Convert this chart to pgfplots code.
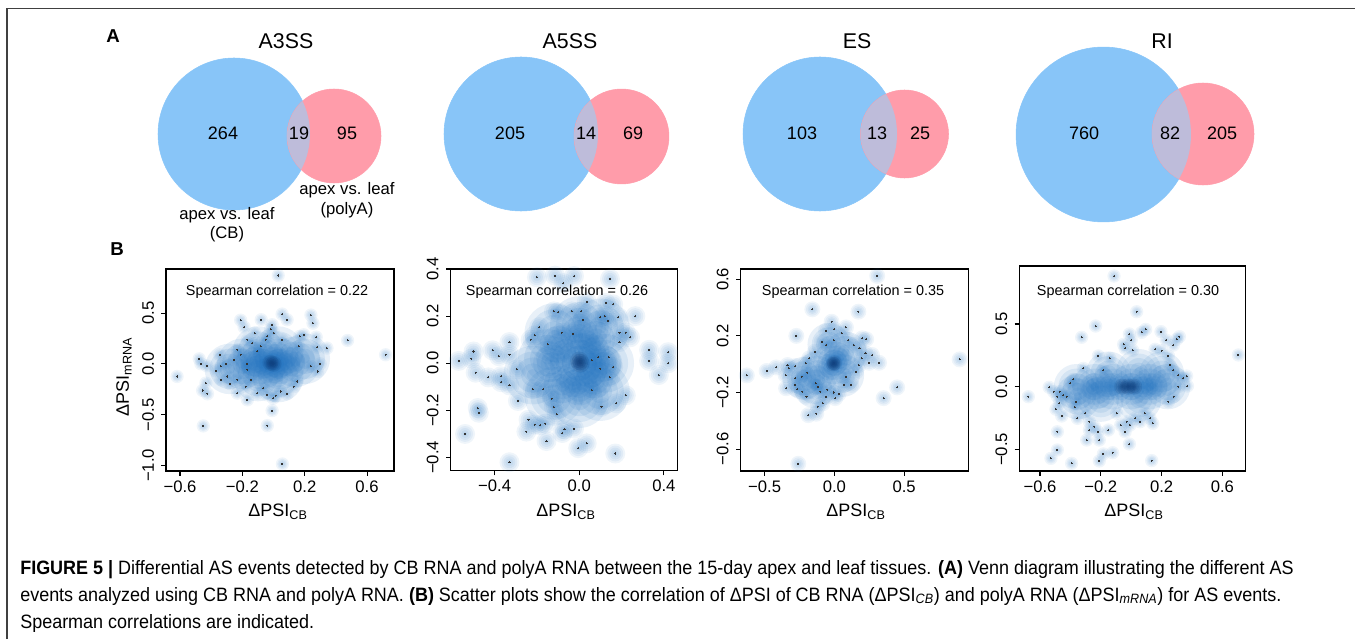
\documentclass[border=0pt]{standalone}
\usepackage{pgfplots}
\pgfplotsset{compat=1.18}
\usepackage{pgfplotstable}
\usepackage{fontspec}
\setmainfont{Liberation Sans}
\newfontfamily\capfont[FakeStretch=0.93]{Liberation Sans}

\definecolor{vblue}{RGB}{136,197,248}
\definecolor{vpink}{RGB}{255,156,170}
\definecolor{vlav}{RGB}{190,188,218}
\definecolor{psblue}{RGB}{30,112,190}
\definecolor{psdark}{RGB}{8,48,107}

\pgfdeclareplotmark{blob}{%
  \pgfpathcircle{\pgfpointorigin}{\pgfplotmarksize}\pgfusepath{fill}%
  \pgfpathcircle{\pgfpointorigin}{0.8\pgfplotmarksize}\pgfusepath{fill}%
  \pgfpathcircle{\pgfpointorigin}{0.6\pgfplotmarksize}\pgfusepath{fill}%
  \pgfpathcircle{\pgfpointorigin}{0.4\pgfplotmarksize}\pgfusepath{fill}%
  \pgfpathcircle{\pgfpointorigin}{0.2\pgfplotmarksize}\pgfusepath{fill}%
}

\pgfplotsset{
  ps/.style={scale only axis, anchor=south west,
    axis line style={line width=0.9pt},
    tick align=outside, xtick pos=left, ytick pos=left,
    major tick length=3.5pt, tick style={line width=0.8pt, black},
    ticklabel style={font=\fontsize{12.5}{14}\selectfont},
    yticklabel style={rotate=90, anchor=south},
    yticklabel shift=2pt,
    xticklabel style={anchor=north},
    clip=true},
  blobs/.style={only marks, mark=blob, mark size=#1, mark options={fill=psblue, fill opacity=0.07}},
  cloud/.style={only marks, mark=blob, mark size=#1, mark options={fill=psblue, fill opacity=0.1}},
  core/.style={only marks, mark=blob, mark size=#1, mark options={fill=psdark, fill opacity=0.13}},
  pdots/.style={only marks, mark=*, mark size=0.4pt, mark options={fill=black!80, draw=black!80, line width=0pt}},
  venn/.style={only marks, mark=*, mark size=#1},
  master/.style={at={(0pt,0pt)}, anchor=south west, scale only axis,
    width=1016.25pt, height=479.25pt,
    xmin=0, xmax=1355, ymin=0, ymax=639, y dir=reverse,
    axis lines=none, clip=false},
}

% ---------- data: points drawn with dots ----------
\pgfplotstableread{
x y
0.03 0.87
0.055 0.49
0.087 0.434
0.24 0.48
0.253 0.40
-0.211 0.43
-0.079 0.434
-0.189 0.362
-0.009 0.385
-0.019 0.342
-0.121 0.303
0.475 0.23
0.719 0.089
0.274 0.263
0.343 0.155
0.279 0.164
0.194 0.286
0.168 0.27
0.162 0.171
0.30 0.0
0.24 -0.026
0.283 -0.076
-0.619 -0.125
-0.477 0.049
-0.466 0.0
-0.428 -0.02
-0.37 -0.069
-0.338 -0.026
-0.345 0.089
-0.306 0.0
-0.296 -0.125
-0.434 -0.19
-0.455 -0.263
-0.424 -0.296
-0.279 -0.197
-0.232 -0.158
-0.253 0.039
-0.211 0.089
-0.232 0.138
-0.172 0.0
-0.168 -0.059
-0.147 -0.158
-0.179 -0.224
-0.232 -0.289
-0.168 -0.355
-0.104 -0.289
-0.066 -0.24
-0.04 -0.306
0.013 -0.316
0.045 -0.273
0.087 -0.296
-0.002 -0.339
-0.009 -0.461
-0.04 -0.609
-0.451 -0.612
0.057 -0.987
0.13 -0.224
0.151 -0.174
-0.136 0.204
-0.168 0.237
-0.051 0.237
-0.083 0.171
-0.104 0.122
-0.04 0.27
0.002 0.303
0.055 0.237
-0.338 -0.158
}\dotsA

\pgfplotstableread{
x y
-0.57 0.01
-0.51 0.02
-0.50 0.05
-0.49 -0.04
-0.48 -0.19
-0.475 -0.21
-0.54 -0.30
-0.43 -0.06
-0.41 0.055
-0.38 0.03
-0.37 -0.08
-0.37 -0.055
-0.33 0.09
-0.33 0.036
-0.33 -0.094
-0.295 -0.026
-0.29 -0.16
-0.33 -0.42
-0.25 -0.29
-0.24 -0.24
-0.21 -0.26
-0.185 -0.263
-0.16 -0.256
-0.155 -0.33
-0.13 -0.15
-0.12 -0.186
-0.107 -0.217
-0.08 -0.296
-0.07 -0.28
-0.025 -0.277
-0.005 -0.36
0.035 -0.34
0.17 -0.383
0.175 -0.17
0.105 -0.185
0.22 -0.136
0.145 -0.06
0.06 -0.115
0.33 0.057
0.33 0.01
0.42 0.047
0.42 0.0
0.376 -0.05
-0.2 0.365
-0.115 0.372
-0.025 0.37
0.145 0.358
-0.075 0.34
-0.10 0.216
-0.036 0.22
0.01 0.22
0.016 0.184
-0.12 0.22
0.035 0.26
0.10 0.195
0.12 0.2
0.137 0.18
0.16 0.25
0.125 0.256
0.185 0.195
0.265 0.2
0.19 0.13
0.22 0.13
0.24 0.11
0.19 0.09
-0.19 0.153
-0.23 0.1
-0.21 0.118
-0.15 0.08
-0.083 0.13
-0.17 -0.11
-0.22 -0.11
-0.03 0.125
0.06 0.012
0.09 0.026
0.10 -0.023
0.16 -0.016
0.14 0.026
}\dotsB

\pgfplotstableread{
x y
0.307 0.624
-0.158 0.388
0.172 0.371
-0.02 0.30
-0.273 0.20
-0.06 0.237
0.0 0.246
0.083 0.26
0.054 0.218
-0.09 0.159
-0.06 0.135
-0.006 0.17
0.10 0.17
0.20 0.183
0.228 0.176
0.139 0.135
0.18 0.112
0.223 0.077
0.27 0.065
0.25 0.01
0.32 0.01
0.898 0.034
-0.14 0.088
-0.18 0.041
-0.206 0.006
-0.28 -0.013
-0.336 -0.006
-0.326 -0.03
-0.418 -0.023
-0.486 -0.048
-0.628 -0.079
-0.35 -0.077
-0.28 -0.10
-0.235 -0.089
-0.194 -0.06
-0.346 -0.17
-0.28 -0.147
-0.266 -0.178
-0.2 -0.23
-0.23 -0.195
-0.12 -0.16
-0.1 -0.195
-0.06 -0.23
-0.05 -0.18
-0.006 -0.2
0.03 -0.21
0.006 -0.24
-0.085 -0.277
-0.12 -0.30
-0.187 -0.36
-0.13 -0.35
-0.134 -0.136
0.07 -0.147
0.12 -0.147
0.083 -0.089
0.155 -0.053
0.175 -0.006
0.196 0.041
0.353 -0.24
0.45 -0.164
-0.259 -0.704
}\dotsC

\pgfplotstableread{
x y
-0.113 0.883
0.036 0.598
-0.234 0.484
-0.326 0.394
-0.012 0.42
0.069 0.433
0.095 0.457
0.196 0.439
0.23 0.372
0.30 0.378
0.317 0.399
0.278 0.332
-0.05 0.338
-0.04 0.306
0.01 0.29
0.0 0.37
-0.14 0.226
-0.216 0.245
-0.315 0.146
-0.183 0.133
0.157 0.298
0.2 0.287
0.245 0.245
0.255 0.173
0.278 0.133
0.31 0.093
0.343 0.066
0.365 0.085
0.37 0.005
0.31 0.0
0.28 -0.08
0.245 -0.12
0.705 0.253
-0.677 -0.08
-0.54 -0.005
-0.51 -0.04
-0.486 -0.08
-0.47 -0.04
-0.446 -0.067
-0.425 -0.08
-0.473 -0.133
-0.495 -0.18
-0.457 -0.234
-0.38 0.058
-0.363 -0.12
-0.37 -0.165
-0.354 -0.253
-0.304 -0.213
-0.275 -0.28
-0.275 -0.346
-0.293 -0.426
-0.242 -0.32
-0.22 -0.36
-0.21 -0.426
-0.15 -0.346
-0.095 -0.213
-0.069 -0.306
-0.03 -0.28
-0.008 -0.306
0.025 -0.253
0.058 -0.28
0.09 -0.213
0.124 -0.253
0.142 -0.293
-0.04 -0.36
-0.012 -0.458
-0.486 -0.36
-0.486 -0.505
-0.528 -0.572
-0.392 -0.612
-0.183 -0.537
-0.21 -0.593
-0.122 -0.527
0.135 -0.59
-0.4 0.027
}\dotsD

\begin{document}
\begin{tikzpicture}
\useasboundingbox (0,0) rectangle (1016.25pt,479.25pt);

% ================= Plot 1 (A3SS) =================
\begin{axis}[ps, at={(124.5pt,126pt)}, width=171pt, height=151.5pt,
  xmin=-0.69, xmax=0.773, ymin=-1.056, ymax=0.934,
  xtick={-0.6,-0.2,0.2,0.6}, xticklabels={−0.6,−0.2,0.2,0.6},
  ytick={-1,-0.5,0,0.5}, yticklabels={−1.0,−0.5,0.0,0.5}]
\addplot[cloud=19pt] coordinates {(-0.2,0) (-0.08,0) (0.04,0) (0.14,0.02) (-0.1,0.12) (0.03,0.12) (-0.1,-0.12) (0.03,-0.13) (-0.28,-0.05) (0.2,0.05)};
\addplot[cloud=11pt] coordinates {(-0.06,0) (0.03,0) (0,0.05) (0,-0.05) (-0.12,0.02) (0.1,0.02)};
\addplot[core=6pt] coordinates {(0,0) (-0.02,0.01)};
\addplot[blobs=5pt] table {\dotsA};
\addplot[pdots] table {\dotsA};
\end{axis}

% ================= Plot 2 (A5SS) =================
\begin{axis}[ps, at={(338pt,126.2pt)}, width=170.25pt, height=151.3pt,
  xmin=-0.608, xmax=0.465, ymin=-0.456, ymax=0.4,
  xtick={-0.4,0,0.4}, xticklabels={−0.4,0.0,0.4},
  ytick={-0.4,-0.2,0,0.2,0.4}, yticklabels={−0.4,−0.2,0.0,0.2,0.4}]
\addplot[cloud=22pt] coordinates {(0,0) (-0.15,0.02) (0.12,0) (0,0.16) (0,-0.15) (-0.12,0.13) (0.1,0.15) (-0.12,-0.14) (0.1,-0.12) (-0.22,-0.05)};
\addplot[cloud=14pt] coordinates {(-0.1,0.08) (0.08,0.1) (-0.08,-0.09) (0.07,-0.07) (0,0.12) (0,-0.1) (-0.13,0) (0.11,0)};
\addplot[cloud=13pt] coordinates {(0,0) (-0.06,0.03) (0.05,-0.03) (0.02,0.07) (-0.03,-0.07) (0.06,0.05)};
\addplot[core=7pt] coordinates {(0.005,0) (0,0.01)};
\addplot[blobs=7.5pt] table {\dotsB};
\addplot[pdots] table {\dotsB};
\end{axis}

% ================= Plot 3 (ES) =================
\begin{axis}[ps, at={(555.5pt,126pt)}, width=171pt, height=151.5pt,
  xmin=-0.672, xmax=0.963, ymin=-0.755, ymax=0.673,
  xtick={-0.5,0,0.5}, xticklabels={−0.5,0.0,0.5},
  ytick={-0.6,-0.2,0.2,0.6}, yticklabels={−0.6,−0.2,0.2,0.6}]
\addplot[cloud=16pt] coordinates {(0,0.01) (-0.12,-0.06) (0.08,0.08) (-0.04,0.14) (0.06,-0.08) (-0.22,-0.1) (-0.14,-0.16)};
\addplot[cloud=10pt] coordinates {(0,0.01) (-0.04,-0.02) (0.03,0.04)};
\addplot[core=5.5pt] coordinates {(0,0.01) (-0.01,0)};
\addplot[blobs=6pt] table {\dotsC};
\addplot[pdots] table {\dotsC};
\end{axis}

% ================= Plot 4 (RI) =================
\begin{axis}[ps, at={(764.5pt,126pt)}, width=169.5pt, height=153.75pt,
  xmin=-0.736, xmax=0.751, ymin=-0.673, ymax=0.963,
  xtick={-0.6,-0.2,0.2,0.6}, xticklabels={−0.6,−0.2,0.2,0.6},
  ytick={-0.5,0,0.5}, yticklabels={−0.5,0.0,0.5}]
\addplot[cloud=17pt] coordinates {(-0.36,0) (-0.24,0) (-0.12,0) (0,0) (0.12,0) (0.24,0) (-0.15,0.1) (0.05,0.12) (-0.2,-0.1) (0.05,-0.1) (0.2,0.1) (-0.35,-0.08)};
\addplot[cloud=10pt] coordinates {(-0.25,0) (-0.15,0) (-0.07,0) (0,0) (0.08,0) (0.15,0)};
\addplot[core=6pt] coordinates {(-0.06,0) (-0.02,0) (0.02,0)};
\addplot[blobs=5pt] table {\dotsD};
\addplot[pdots] table {\dotsD};
\end{axis}

% ================= Venn circles =================
\begin{axis}[master]
\addplot[venn=57pt, mark options={fill=vblue, draw=vblue}] coordinates {(234,134)};
\addplot[venn=35.25pt, mark options={fill=vpink, draw=vpink}] coordinates {(334,136)};
\addplot[venn=57.75pt, mark options={fill=vblue, draw=vblue}] coordinates {(521,134)};
\addplot[venn=35.6pt, mark options={fill=vpink, draw=vpink}] coordinates {(621.5,136.5)};
\addplot[venn=57.75pt, mark options={fill=vblue, draw=vblue}] coordinates {(820,134)};
\addplot[venn=33pt, mark options={fill=vpink, draw=vpink}] coordinates {(904.5,134)};
\addplot[venn=65.6pt, mark options={fill=vblue, draw=vblue}] coordinates {(1103.5,134.5)};
\addplot[venn=38.25pt, mark options={fill=vpink, draw=vpink}] coordinates {(1203,134)};
\end{axis}

% ================= Overlaps, labels, caption =================
\begin{axis}[master]
\begin{scope}\clip (axis cs:234,134) circle[radius=57pt];
\fill[vlav] (axis cs:334,136) circle[radius=35.25pt];\end{scope}
\begin{scope}\clip (axis cs:521,134) circle[radius=57.75pt];
\fill[vlav] (axis cs:621.5,136.5) circle[radius=35.6pt];\end{scope}
\begin{scope}\clip (axis cs:820,134) circle[radius=57.75pt];
\fill[vlav] (axis cs:904.5,134) circle[radius=33pt];\end{scope}
\begin{scope}\clip (axis cs:1103.5,134.5) circle[radius=65.6pt];
\fill[vlav] (axis cs:1203,134) circle[radius=38.25pt];\end{scope}

% titles
\begin{scope}[every node/.style={font=\fontsize{16}{19}\selectfont}]
\node at (axis cs:286,41) {A3SS};
\node at (axis cs:570,41) {A5SS};
\node at (axis cs:857,41) {ES};
\node at (axis cs:1162,41) {RI};
\end{scope}
\node[font=\bfseries\fontsize{14}{16}\selectfont] at (axis cs:113,36) {A};
\node[font=\bfseries\fontsize{14}{16}\selectfont] at (axis cs:117,249) {B};
% venn numbers
\begin{scope}[every node/.style={font=\fontsize{13.5}{16}\selectfont}]
\node at (axis cs:223,133) {264}; \node at (axis cs:299,133) {19}; \node at (axis cs:347,133) {95};
\node at (axis cs:510,133) {205}; \node at (axis cs:586,133) {14}; \node at (axis cs:633,133) {69};
\node at (axis cs:802,133) {103}; \node at (axis cs:877,133) {13}; \node at (axis cs:920,133) {25};
\node at (axis cs:1084,133) {760}; \node at (axis cs:1170,133) {82}; \node at (axis cs:1222,133) {205};
\end{scope}
\begin{scope}[every node/.style={font=\fontsize{12.5}{15}\selectfont}]
\node at (axis cs:227,215) {apex vs. leaf};
\node at (axis cs:227,234) {(CB)};
\node at (axis cs:347,190) {apex vs. leaf};
\node at (axis cs:347,210) {(polyA)};
\end{scope}
% Spearman
\begin{scope}[every node/.style={font=\fontsize{10.8}{13}\selectfont}]
\node at (axis cs:277,292) {Spearman correlation = 0.22};
\node at (axis cs:557,292) {Spearman correlation = 0.26};
\node at (axis cs:853,292) {Spearman correlation = 0.35};
\node at (axis cs:1128,292) {Spearman correlation = 0.30};
\end{scope}
% axis labels
\begin{scope}[every node/.style={font=\fontsize{13.5}{16}\selectfont}]
\node at (axis cs:278,512) {ΔPSI\textsubscript{CB}};
\node at (axis cs:566,512) {ΔPSI\textsubscript{CB}};
\node at (axis cs:856,512) {ΔPSI\textsubscript{CB}};
\node at (axis cs:1134,512) {ΔPSI\textsubscript{CB}};
\node[rotate=90] at (axis cs:124,377) {ΔPSI\textsubscript{mRNA}};
\end{scope}
% frame
\draw[line width=1.1pt, black!75] (axis cs:7,639) -- (axis cs:7,8.5) -- (axis cs:1355,8.5);
% caption
\begin{scope}[every node/.style={anchor=base west, inner sep=0pt, font=\capfont\fontsize{14.5}{17}\selectfont}]
\node at (axis cs:20,574) {\textbf{FIGURE 5 |} Differential AS events detected by CB RNA and polyA RNA between the 15-day apex and leaf tissues. \textbf{(A)} Venn diagram illustrating the different AS};
\node at (axis cs:20,601) {events analyzed using CB RNA and polyA RNA. \textbf{(B)} Scatter plots show the correlation of ΔPSI of CB RNA (ΔPSI\textsubscript{\textit{CB}}) and polyA RNA (ΔPSI\textsubscript{\textit{mRNA}}) for AS events.};
\node at (axis cs:20,628) {Spearman correlations are indicated.};
\end{scope}
\end{axis}
\end{tikzpicture}
\end{document}
